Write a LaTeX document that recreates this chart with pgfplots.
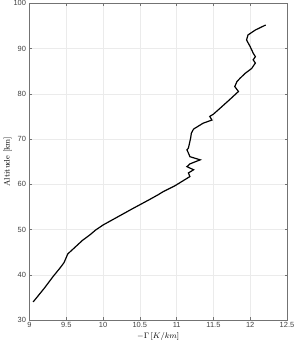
\documentclass[border=0pt]{standalone}
\usepackage{fontspec}
\usepackage{pgfplots}
\pgfplotsset{compat=1.18}
\newfontfamily\tickfont{Liberation Sans}
\begin{document}
\begin{tikzpicture}
\begin{axis}[
  name=ax,
  scale only axis,
  width=257.5bp, height=316.7bp,
  xmin=9, xmax=12.5, ymin=30, ymax=100,
  xtick={9,9.5,...,12.5},
  ytick={30,40,...,100},
  xticklabels={9,9.5,10,10.5,11,11.5,12,12.5},
  grid=major,
  major grid style={draw=black!8, line width=0.4pt},
  axis line style={draw=black!55, line width=0.5pt},
  tick style={draw=black!55, line width=0.5pt},
  tick align=inside,
  major tick length=2.5bp,
  ticklabel style={font=\tickfont\fontsize{7.5}{9}\selectfont, text=black!75},
  /pgf/number format/assume math mode=true,
  xlabel={$-\Gamma\,[K/km]$},
  ylabel={Altitude [km]},
  label style={font=\fontsize{8}{9}\selectfont},
  xlabel style={yshift=2bp},
  ylabel style={yshift=-5bp},
  xticklabel style={yshift=1bp},
]
\addplot[black, line width=1.2bp] coordinates {
(9.05,34.0) (9.20,37.0) (9.32,39.6) (9.42,41.6) (9.47,42.7) (9.52,44.6)
(9.56,45.2) (9.64,46.4) (9.72,47.6) (9.82,48.8) (9.90,49.9) (10.0,51.0)
(10.2,52.8) (10.4,54.6) (10.64,56.7) (10.75,57.7) (10.82,58.4) (10.98,59.7)
(11.11,61.0) (11.18,61.7) (11.16,62.5) (11.23,63.2) (11.14,63.9) (11.18,64.5)
(11.32,65.4) (11.18,66.1) (11.16,66.9) (11.14,67.6) (11.16,68.0) (11.19,70.2)
(11.20,71.3) (11.23,72.2) (11.32,73.1) (11.36,73.5) (11.48,74.2) (11.45,75.0)
(11.50,75.5) (11.59,76.8) (11.72,78.7) (11.84,80.5) (11.79,81.6) (11.82,82.7)
(11.86,83.4) (11.93,84.5) (12.02,85.6) (12.07,86.8) (12.04,87.5) (12.07,88.2)
(12.04,89.0) (12.00,90.4) (11.95,91.9) (11.97,93.0) (12.07,94.1) (12.21,95.2)
};
\end{axis}
\pgfresetboundingbox
\useasboundingbox ([xshift=-29.5bp,yshift=-24bp]ax.south west) rectangle ([xshift=8bp,yshift=3.3bp]ax.north east);
\end{tikzpicture}
\end{document}
